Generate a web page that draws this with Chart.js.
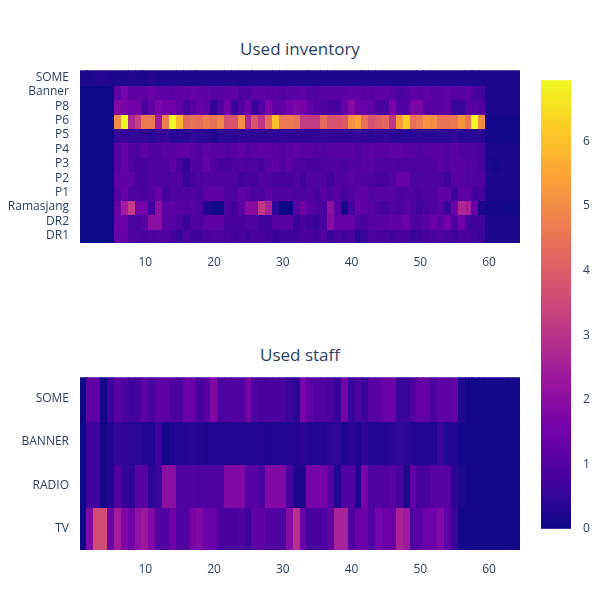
<!DOCTYPE html>
<html><head><meta charset="utf-8">
<script src="https://cdn.jsdelivr.net/npm/chart.js@4"></script>
<style>
body{margin:0;background:#fff;font-family:"Open Sans",sans-serif;}
.c{position:absolute;}
.t{position:absolute;width:440px;text-align:center;font-size:17px;color:#2a3f5f;left:80px;}
</style></head><body>
<div class="t" style="top:37px">Used inventory</div>
<div class="t" style="top:343px">Used staff</div>
<div class="c" style="left:0;top:60px;width:520px;height:215px"><canvas id="c1"></canvas></div>
<div class="c" style="left:0;top:367px;width:520px;height:215px"><canvas id="c2"></canvas></div>
<div class="c" style="left:530px;top:69px;width:70px;height:471px"><canvas id="c3"></canvas></div>
<script>
const xTicks=[10,20,30,40,50,60];
const cbTicks=[0,1,2,3,4,5,6];
const invRows=["DR1","DR2","Ramasjang","P1","P2","P3","P4","P5","P6","P8","Banner","SOME"];
const staffRows=["TV","RADIO","BANNER","SOME"];
// inventory values, columns 1..64
const invDR1=[0,0,0,0,0, 1.3,1.3,1.0,0.9,0.8,0.9,1.0,1.0,0.8,0.6,0.9,0.7,0.7,0.8,0.9,0.9,0.8,0.7,0.8,0.7,0.8,0.8,0.7,0.6,0.7,0.7,0.7,0.8,0.8,0.7,1.0,0.6,0.8,0.7,0.8,0.4,0.6,0.9,0.8,0.8,0.7,0.8,0.8,0.6,0.7,0.8,0.9,1.0,0.8,0.7,0.8,0.8,0.7,0.6, 0.2,0.2,0.2,0.2,0.2];
const invDR2=[0,0,0,0,0, 1.4,1.4,0.9,0.9,1.1,2.0,2.0,1.1,1.1,0.8,0.6,0.9,0.9,1.2,1.2,1.2,0.8,0.8,0.8,0.9,0.9,0.7,0.7,1.1,1.1,1.1,0.6,0.8,0.7,0.6,0.9,1.9,1.3,1.3,1.3,0.9,0.8,1.1,1.1,1.1,1.2,1.2,1.4,1.0,0.9,1.1,1.4,1.1,1.5,0.9,1.5,0.7,0.7,0.7, 0.2,0.2,0.2,0.2,0.2];
const invRam=[0,0,0,0,0, 1.4,2.4,3.2,1.6,1.6,0.7,2.0,1.1,1.2,1.1,1.0,1.1,0.9,0.3,0.1,0.1,0.9,0.7,1.1,1.9,1.9,3.1,2.6,0.4,0.0,0.0,1.0,1.5,1.1,0.9,0.9,2.1,1.1,0.1,0.8,1.3,1.2,1.1,0.9,0.8,1.0,0.9,1.1,1.0,0.7,0.9,1.0,1.1,0.6,1.5,2.7,2.5,1.4,0.2, 0.1,0.1,0.1,0.1,0.1];
const invP1=[0,0,0,0,0, 1.1,1.3,0.9,0.9,0.8,1.0,1.4,0.8,1.0,0.9,1.0,1.0,0.9,1.2,1.2,1.2,1.0,0.9,1.2,1.1,0.9,0.9,1.2,1.0,1.0,1.0,0.9,0.9,1.0,0.8,1.1,0.9,1.1,0.8,1.0,1.2,1.2,1.0,1.1,1.1,1.1,0.9,1.0,1.0,0.8,1.0,1.0,1.2,1.2,0.7,1.2,1.2,0.7,0.8, 0.2,0.2,0.2,0.2,0.2];
const invP2=[0,0,0,0,0, 1.2,1.2,1.2,0.8,0.8,1.0,1.0,0.9,1.0,1.0,0.6,0.8,0.9,1.0,1.0,1.0,1.0,0.9,0.7,0.8,0.8,1.0,1.0,0.8,0.8,0.8,0.9,0.7,1.0,1.0,1.0,0.7,1.0,1.0,1.1,1.0,1.0,0.9,0.8,0.8,1.0,1.3,1.3,0.9,0.9,1.0,0.9,0.9,0.7,1.1,1.1,1.0,1.0,1.0, 0.2,0.2,0.2,0.2,0.2];
const invP3=[0,0,0,0,0, 1.1,1.3,1.0,0.8,0.8,1.0,1.0,1.0,1.2,0.8,0.5,1.0,1.0,1.3,1.0,0.8,0.8,0.9,1.0,0.9,0.9,0.8,1.1,1.2,1.0,1.2,0.9,0.9,0.8,0.8,0.9,1.0,1.0,0.9,1.0,1.0,1.1,1.1,0.9,1.0,1.0,0.9,0.9,0.9,1.0,0.9,1.0,1.1,1.0,1.1,1.1,1.0,1.0,0.8, 0.2,0.1,0.2,0.2,0.2];
const invP4=[0,0,0,0,0, 1.1,1.3,1.0,0.9,1.2,1.0,1.0,1.1,1.1,1.2,1.2,1.1,1.0,1.2,1.1,1.1,1.0,1.1,1.2,1.0,1.1,1.2,1.2,1.1,1.0,1.1,1.2,1.1,1.1,1.0,1.0,1.1,1.1,1.1,1.1,1.0,1.1,1.2,1.1,1.1,1.2,1.2,1.1,1.1,1.0,1.1,1.1,1.1,1.0,1.1,1.0,1.0,0.9,0.8, 0.2,0.2,0.2,0.2,0.2];
const invP5=[0,0,0,0,0, 0.6,0.6,0.5,0.5,0.5,0.4,0.5,0.6,0.4,0.4,0.4,0.5,0.4,0.4,0.3,0.4,0.4,0.4,0.5,0.5,0.5,0.5,0.5,0.5,0.5,0.5,0.5,0.5,0.5,0.5,0.5,0.5,0.5,0.5,0.5,0.5,0.5,0.4,0.5,0.5,0.4,0.4,0.4,0.4,0.5,0.4,0.4,0.4,0.4,0.5,0.4,0.4,0.4,0.4, 0.1,0.1,0.1,0.1,0.1];
const invP6=[0,0,0,0,0, 5.0,7.0,2.7,3.3,4.6,4.6,2.4,4.7,6.9,5.8,4.3,4.5,4.4,4.7,4.5,4.9,3.7,3.8,5.0,2.7,3.8,3.1,4.3,6.0,4.6,4.6,4.5,3.2,3.2,3.2,4.3,3.8,3.8,3.9,5.1,5.4,4.4,3.8,4.0,4.2,3.1,5.3,6.2,4.4,4.7,5.2,5.0,4.5,4.5,4.6,5.2,4.6,7.0,5.0, 0.1,0.1,0.1,0.1,0.1];
const invP8=[0,0,0,0,0, 1.8,1.7,1.5,1.5,0.8,1.2,1.7,1.5,1.5,1.2,0.8,1.1,1.3,1.2,0.5,0.9,1.5,0.6,1.0,1.5,0.6,1.0,1.7,1.2,1.2,1.5,1.7,1.6,1.2,1.0,0.9,0.8,0.8,1.3,1.9,1.4,1.4,1.2,0.8,0.8,1.6,1.0,1.0,1.7,1.7,1.1,1.1,1.1,1.2,0.6,0.6,1.1,1.1,1.0, 0.2,0.2,0.2,0.2,0.2];
const invBanner=[0,0,0,0,0, 1.2,1.6,1.2,1.2,1.2,1.3,1.2,1.2,1.1,1.2,1.2,1.3,1.2,1.2,1.1,1.1,1.2,1.2,0.9,0.9,1.2,1.2,1.1,1.1,1.0,1.1,1.1,1.2,1.0,1.0,1.1,1.1,1.1,1.1,1.2,1.2,1.1,1.1,1.2,1.2,1.1,0.9,1.0,1.2,1.1,1.2,1.1,1.1,1.2,1.1,1.1,1.2,0.8,0.7, 0.2,0.2,0.2,0.2,0.2];
const invSOME=[0.2,0.2,0.3,0.3,0.2,0.2,0.2,0.3,0.2,0.2,0.3,0.2,0.2,0.2,0.2,0.2,0.2,0.2,0.2,0.2,0.2,0.2,0.2,0.2,0.2,0.2,0.2,0.2,0.2,0.2,0.2,0.2,0.2,0.2,0.2,0.2,0.2,0.2,0.2,0.2,0.2,0.2,0.2,0.2,0.2,0.2,0.2,0.2,0.2,0.2,0.2,0.2,0.2,0.2,0.2,0.2,0.2,0.2,0.2,0.2,0.2,0.2,0.2,0.2];
// staff values, columns 1..64
const stTV=[0, 1.8,3.6,3.6,1.4,2.4,1.8,1.5,2.1,2.3,1.8,1.0,1.0,1.5,1.0,1.0,1.7,1.8,1.4,1.4,0.9,0.8,0.8,0.9,0.7,1.2,1.2,1.0,1.0,0.9,1.9,2.9,1.4,0.8,0.8,0.9,1.3,2.6,2.6,1.0,1.4,1.4,1.0,1.6,1.4,1.4,2.6,2.4,0.9,1.1,1.5,1.5,1.8,1.2,0.6, 0.1,0.1,0.1,0.1,0.1,0.1,0.1,0.1,0.1];
const stRADIO=[0, 0.7,0.7,0.1,0.3,1.0,0.5,0.5,1.1,1.1,0.4,0.6,2.0,2.0,1.0,1.0,1.0,0.9,0.9,0.9,0.9,1.8,1.8,1.8,1.1,1.1,0.9,1.8,1.8,1.8,0.8,0.2,0.2,1.6,1.6,1.6,1.0,0.3,1.0,1.0,0.2,1.6,0.9,1.0,1.0,1.1,0.8,0.2,1.3,0.8,0.8,1.1,1.1,1.1,0.4, 0.2,0.1,0.1,0.1,0.1,0.1,0.1,0.1,0.1];
const stBANNER=[0, 0.7,0.7,0.1,0.3,0.5,0.5,0.4,0.4,0.3,0.3,0.7,0.1,0.3,0.3,0.3,0.4,0.3,0.2,0.3,0.3,0.3,0.3,0.3,0.3,0.3,0.3,0.2,0.3,0.3,0.3,0.3,0.4,0.3,0.3,0.3,0.4,0.5,0.2,0.4,0.2,0.4,0.3,0.3,0.3,0.4,0.5,0.4,0.3,0.3,0.3,0.3,0.6,0.3,0.3, 0.1,0.1,0.1,0.1,0.1,0.1,0.1,0.1,0.1];
const stSOME=[0, 1.2,1.2,0.1,0.6,1.1,0.9,0.7,0.8,1.2,0.9,1.2,1.2,0.9,0.9,1.4,1.4,0.8,1.1,1.8,0.9,0.9,1.0,1.0,1.6,0.9,0.8,0.8,0.8,0.8,0.6,0.4,1.7,1.2,1.0,1.0,0.8,0.6,1.6,0.6,0.9,0.6,1.1,1.1,1.4,1.4,0.6,0.6,0.9,1.3,1.3,0.9,1.2,1.2,1.3, 0.2,0.1,0.1,0.1,0.1,0.1,0.1,0.1,0.1];

const invData=[invDR1,invDR2,invRam,invP1,invP2,invP3,invP4,invP5,invP6,invP8,invBanner,invSOME];
const staffData=[stTV,stRADIO,stBANNER,stSOME];
const ZMAX=6.95;
const stops=["#0d0887","#46039f","#7201a8","#9c179e","#bd3786","#d8576b","#ed7953","#fb9f3a","#fdca26","#f0f921"];
function hex(h){return [1,3,5].map(i=>parseInt(h.substr(i,2),16));}
const sRGB=stops.map(hex);
function color(v){let t=Math.max(0,Math.min(1,v/ZMAX))*(stops.length-1);let i=Math.min(stops.length-2,Math.floor(t)),f=t-i;
 const a=sRGB[i],b=sRGB[i+1];return `rgb(${a.map((x,k)=>Math.round(x+(b[k]-x)*f)).join(",")})`;}
const FC="#2a3f5f",FONT={family:"Open Sans",size:12};
function heatPlugin(data){return {id:'heat',beforeDatasetsDraw(ch){
 const c=ch.ctx,xs=ch.scales.x,ys=ch.scales.y,A=ch.chartArea;
 c.save();c.beginPath();c.rect(A.left,A.top,A.right-A.left,A.bottom-A.top);c.clip();
 data.forEach((row,r)=>row.forEach((v,i)=>{const x=i+1;
  const x0=xs.getPixelForValue(x-0.5),x1=xs.getPixelForValue(x+0.5),y0=ys.getPixelForValue(r+0.5),y1=ys.getPixelForValue(r-0.5);
  c.fillStyle=color(v);c.fillRect(Math.floor(x0),Math.floor(y0),Math.ceil(x1-x0)+1,Math.ceil(y1-y0)+1);}));
 c.restore();}};}
function heat(id,data,names){
 new Chart(document.getElementById(id),{type:'scatter',data:{datasets:[{data:[]}]},
 options:{responsive:true,maintainAspectRatio:false,animation:false,layout:{padding:0},
 plugins:{legend:{display:false},tooltip:{enabled:false}},
 scales:{x:{type:'linear',min:0.5,max:64.5,grid:{display:false},border:{display:false},
   afterBuildTicks(s){s.ticks=xTicks.map(v=>({value:v}));},afterFit(s){s.height=32;},
   ticks:{color:FC,font:FONT,maxRotation:0,padding:4}},
  y:{type:'linear',min:-0.5,max:names.length-0.5,grid:{display:false},border:{display:false},
   afterBuildTicks(s){s.ticks=names.map((n,i)=>({value:i}));},afterFit(s){s.width=80;},
   ticks:{color:FC,font:FONT,padding:3,autoSkip:false,callback:v=>names[v]}}}},
 plugins:[heatPlugin(data)]});}
heat('c1',invData,invRows);
heat('c2',staffData,staffRows);
new Chart(document.getElementById('c3'),{type:'scatter',data:{datasets:[{data:[]}]},
 options:{responsive:true,maintainAspectRatio:false,animation:false,layout:{padding:{left:11,top:0,bottom:0,right:0}},
 plugins:{legend:{display:false},tooltip:{enabled:false}},
 scales:{x:{display:false,min:0,max:1},
  y:{position:'right',min:0,max:ZMAX,grid:{display:false},border:{display:false},
   afterBuildTicks(s){s.ticks=cbTicks.map(v=>({value:v}));},afterFit(s){s.width=29;},
   ticks:{color:FC,font:FONT,padding:4}}}},
 plugins:[{id:'cb',beforeDatasetsDraw(ch){const c=ch.ctx,A=ch.chartArea,ys=ch.scales.y;
  const g=c.createLinearGradient(0,ys.getPixelForValue(0),0,ys.getPixelForValue(ZMAX));
  stops.forEach((s,i)=>g.addColorStop(i/(stops.length-1),s));
  c.fillStyle=g;c.fillRect(A.left,A.top,A.right-A.left,A.bottom-A.top);}}]});
</script></body></html>
